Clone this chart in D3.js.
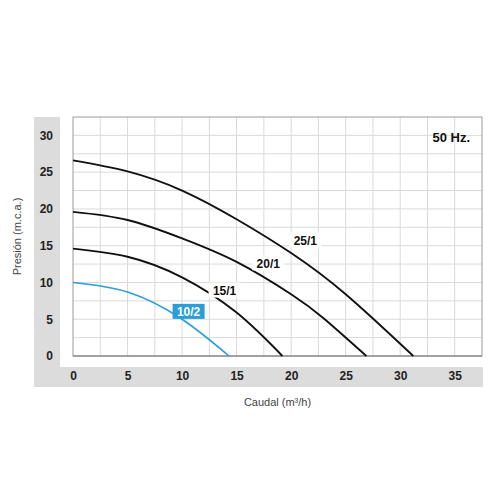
<!DOCTYPE html>
<html>
<head>
<meta charset="utf-8">
<script src="https://cdn.jsdelivr.net/npm/d3@7"></script>
<style>
  body { margin: 0; background: #fff; }
  svg text { font-family: "Liberation Sans", Arial, sans-serif; }
  .tick text { font-size: 12px; font-weight: bold; fill: #222; }
</style>
</head>
<body>
<div id="chart"></div>
<script>

// curve data: caudal (m3/h), presion (m.c.a.)
var series = ["25/1", "20/1", "15/1", "10/2"];
var caudal25 = [0, 5, 10, 15, 20, 25, 31.2];
var presion25 = [26.6, 25.1, 22.5, 18.6, 14.0, 8.4, 0];
var caudal20 = [0, 5, 10, 15, 20, 23, 26.9];
var presion20 = [19.6, 18.5, 16.0, 12.8, 8.4, 5.1, 0];
var caudal15 = [0, 5, 10, 15, 19.2];
var presion15 = [14.6, 13.5, 10.7, 5.9, 0];
var caudal10 = [0, 5, 10, 14.3];
var presion10 = [10.0, 8.7, 5.0, 0];

var xTicks = [0, 5, 10, 15, 20, 25, 30, 35];
var yTicks = [0, 5, 10, 15, 20, 25, 30];

/*
 *  Layout
 */
var width = 500, height = 500;
var plot = { left: 73, right: 482, top: 117, bottom: 356 };

var svg = d3.select("#chart").append("svg")
    .attr("width", width)
    .attr("height", height);

var x = d3.scaleLinear().domain([0, 37.5]).range([plot.left, plot.right]);
var y = d3.scaleLinear().domain([0, 32.5]).range([plot.bottom, plot.top]);

// grey L-shaped band behind the tick labels
svg.append("rect")
    .attr("x", 34).attr("y", plot.top)
    .attr("width", 26).attr("height", 387 - plot.top)
    .attr("fill", "#dcdcdc");
svg.append("rect")
    .attr("x", 34).attr("y", 367)
    .attr("width", 449).attr("height", 20)
    .attr("fill", "#dcdcdc");

// grid every 2.5 units
var grid = svg.append("g").attr("class", "grid");

grid.selectAll(".vline")
    .data(d3.range(2.5, 37.5, 2.5))
    .enter().append("line")
    .attr("x1", function(d) { return x(d); })
    .attr("x2", function(d) { return x(d); })
    .attr("y1", plot.top).attr("y2", plot.bottom)
    .attr("stroke", "#dadada").attr("stroke-width", 1);

grid.selectAll(".hline")
    .data(d3.range(2.5, 32.5, 2.5))
    .enter().append("line")
    .attr("y1", function(d) { return y(d); })
    .attr("y2", function(d) { return y(d); })
    .attr("x1", plot.left).attr("x2", plot.right)
    .attr("stroke", "#dadada").attr("stroke-width", 1);

// frame
svg.append("rect")
    .attr("x", plot.left).attr("y", plot.top)
    .attr("width", plot.right - plot.left)
    .attr("height", plot.bottom - plot.top)
    .attr("fill", "none")
    .attr("stroke", "#9a9a9a").attr("stroke-width", 1);

svg.append("line")
    .attr("x1", plot.left).attr("x2", plot.right)
    .attr("y1", plot.bottom).attr("y2", plot.bottom)
    .attr("stroke", "#777").attr("stroke-width", 1.2);

// axes (labels only)
var xAxis = svg.append("g")
    .attr("transform", "translate(0,371)")
    .call(d3.axisBottom(x).tickValues(xTicks).tickSize(0).tickPadding(0));
xAxis.select(".domain").remove();

var yAxis = svg.append("g")
    .attr("transform", "translate(53,0)")
    .call(d3.axisLeft(y).tickValues(yTicks).tickSize(0).tickPadding(0));
yAxis.select(".domain").remove();

// axis titles
svg.append("text")
    .attr("x", (plot.left + plot.right) / 2)
    .attr("y", 406)
    .attr("text-anchor", "middle")
    .attr("font-size", 11)
    .attr("fill", "#444")
    .text("Caudal (m³/h)");

svg.append("text")
    .attr("transform", "translate(21," + ((plot.top + plot.bottom) / 2) + ") rotate(-90)")
    .attr("text-anchor", "middle")
    .attr("font-size", 11)
    .attr("fill", "#444")
    .text("Presión (m.c.a.)");

svg.append("text")
    .attr("x", 470).attr("y", 142)
    .attr("text-anchor", "end")
    .attr("font-size", 13)
    .attr("font-weight", "bold")
    .attr("fill", "#111")
    .text("50 Hz.");

/*
 *  Curves
 */
var curves = [
    { name: series[0], q: caudal25, h: presion25, color: "#111", width: 1.9, label: [21.3, 15.7] },
    { name: series[1], q: caudal20, h: presion20, color: "#111", width: 1.9, label: [17.9, 12.6] },
    { name: series[2], q: caudal15, h: presion15, color: "#111", width: 1.9, label: [13.9, 8.9] },
    { name: series[3], q: caudal10, h: presion10, color: "#2a9ed8", width: 1.6, label: [10.6, 6.0] }
];

var line = d3.line()
    .x(function(d) { return x(d[0]); })
    .y(function(d) { return y(d[1]); })
    .curve(d3.curveNatural);

curves.forEach(function(c) {
    var pts = c.q.map(function(q, i) { return [q, c.h[i]]; });
    svg.append("path")
        .datum(pts)
        .attr("d", line)
        .attr("fill", "none")
        .attr("stroke", c.color)
        .attr("stroke-width", c.width);
});

// labels with a boxed background
curves.forEach(function(c, i) {
    var blue = (i === 3);
    var cx = x(c.label[0]), cy = y(c.label[1]);
    svg.append("rect")
        .attr("x", cx - 16).attr("y", cy - 8)
        .attr("width", 32).attr("height", 15)
        .attr("fill", blue ? c.color : "#fff");
    svg.append("text")
        .attr("x", cx).attr("y", cy + 4.5)
        .attr("text-anchor", "middle")
        .attr("font-size", 12)
        .attr("font-weight", "bold")
        .attr("fill", blue ? "#fff" : "#111")
        .text(c.name);
});

</script>
</body>
</html>
